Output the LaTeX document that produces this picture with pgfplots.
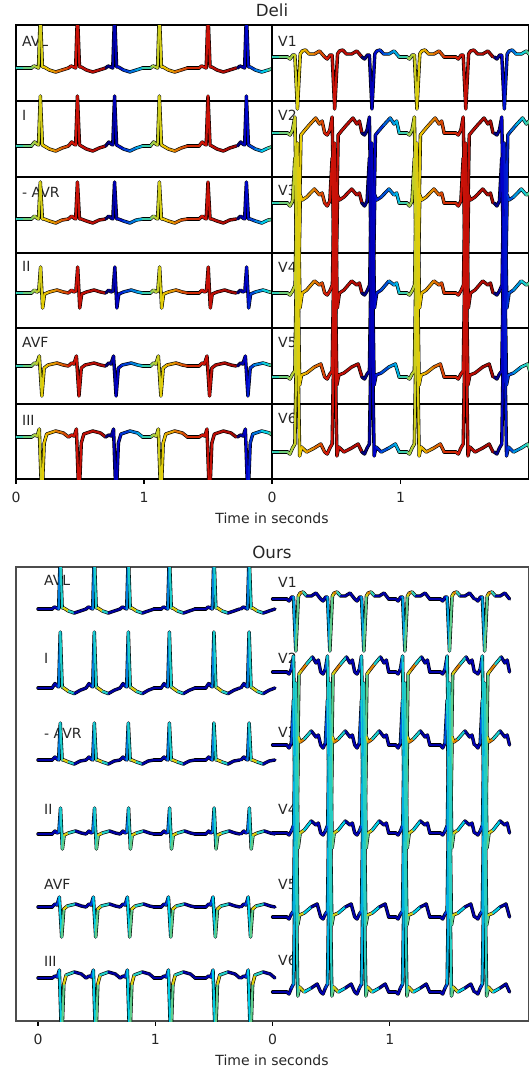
\documentclass[border=0pt]{standalone}
\usepackage{pgfplots}
\pgfplotsset{compat=1.18}
\usepackage{pgfplotstable}
\usepackage{fontspec}
\setmainfont{DejaVu Sans}

% one-beat templates: t = time from R (s), y = deflection (px, up), c = colour value of "Ours"
\pgfplotstableread{
t y c
-0.07 0 0.08
-0.05 2 0.08
-0.03 1 0.10
-0.014 0 0.20
0.0 55 0.36
0.016 1 0.45
0.03 1 0.50
0.07 -2 0.72
0.12 -4 0.10
0.17 -2 0.05
0.22 0 0.08
}\tAVL
\pgfplotstableread{
t y c
-0.07 0 0.08
-0.045 4 0.08
-0.028 2 0.10
-0.014 1 0.20
0.0 50 0.36
0.016 1 0.45
0.03 0 0.50
0.07 -3 0.72
0.12 -5 0.10
0.17 -2 0.05
0.22 0 0.08
}\tI
\pgfplotstableread{
t y c
-0.07 0 0.08
-0.045 3 0.08
-0.028 1 0.10
-0.014 0 0.20
0.0 37 0.36
0.016 0 0.45
0.03 0 0.50
0.07 -2 0.72
0.12 -4 0.10
0.17 -1 0.05
0.22 0 0.08
}\tAVR
\pgfplotstableread{
t y c
-0.07 0 0.08
-0.045 3 0.08
-0.028 1 0.10
-0.012 2 0.20
0.002 26 0.36
0.018 -15 0.45
0.033 -1 0.50
0.07 1 0.72
0.13 3 0.10
0.18 1 0.05
0.22 0 0.08
}\tII
\pgfplotstableread{
t y c
-0.07 0 0.08
-0.045 3 0.08
-0.028 2 0.10
-0.008 10 0.30
0.012 -30 0.45
0.03 -2 0.50
0.06 1 0.72
0.13 3 0.10
0.18 1 0.05
0.22 0 0.08
}\tAVF
\pgfplotstableread{
t y c
-0.07 0 0.08
-0.045 2 0.08
-0.025 1 0.10
-0.008 8 0.30
0.012 -65 0.45
0.03 -6 0.50
0.05 3 0.72
0.12 6 0.10
0.18 4 0.05
0.22 0 0.08
}\tIII
\pgfplotstableread{
t y c
-0.07 0 0.08
-0.05 -2 0.08
-0.028 2 0.10
-0.012 2 0.20
0.008 -52 0.45
0.03 3 0.50
0.045 6 0.70
0.07 7 0.75
0.10 3 0.10
0.14 3 0.05
0.18 6 0.08
0.22 0 0.08
}\tVa
\pgfplotstableread{
t y c
-0.07 0 0.08
-0.05 -2 0.08
-0.03 3 0.10
-0.012 16 0.35
0.012 -170 0.45
0.035 -2 0.50
0.06 2 0.70
0.10 8 0.75
0.15 15 0.05
0.18 9 0.08
0.20 12 0.10
0.22 0 0.08
}\tVb
\pgfplotstableread{
t y c
-0.07 0 0.08
-0.05 -3 0.08
-0.03 2 0.10
-0.012 45 0.35
0.012 -130 0.45
0.03 8 0.50
0.045 3 0.70
0.08 6 0.75
0.14 14 0.05
0.18 8 0.08
0.20 10 0.10
0.22 0 0.08
}\tVc
\pgfplotstableread{
t y c
-0.07 0 0.08
-0.05 -2 0.08
-0.03 2 0.10
-0.01 8 0.30
0.008 150 0.38
0.028 -15 0.45
0.045 0 0.50
0.08 3 0.70
0.14 12 0.05
0.18 8 0.08
0.20 10 0.10
0.22 0 0.08
}\tVd
\pgfplotstableread{
t y c
-0.07 0 0.08
-0.05 -2 0.08
-0.03 3 0.10
-0.012 6 0.30
0.006 160 0.38
0.025 -8 0.45
0.04 2 0.50
0.08 4 0.70
0.14 10 0.05
0.19 13 0.08
0.22 0 0.08
}\tVe
\pgfplotstableread{
t y c
-0.07 0 0.08
-0.05 -2 0.08
-0.03 4 0.10
-0.012 8 0.30
0.006 150 0.38
0.025 -4 0.45
0.04 5 0.50
0.08 0 0.70
0.14 4 0.05
0.19 8 0.08
0.22 0 0.08
}\tVf

% flat stretches between beats: t, colour in Deli (d), colour in Ours (o)
\pgfplotstableread{
t d o
0 0.40 0.08
0.06 0.46 0.08
0.12 0.52 0.08
}\gA
\pgfplotstableread{
t d o
0.99 0.36 0.08
1.05 0.52 0.08
}\gB
\pgfplotstableread{
t d o
1.34 0.82 0.08
1.43 0.86 0.08
}\gC

\tikzset{ecgK/.style={black, line width=3.4pt, line cap=round, line join=round}}
\pgfplotsset{ecgC/.style={mesh, line width=2.2pt, line cap=round, line join=round}}

% black outline of one beat: #1 R time, #2 shift, #3 base, #4 scale, #5 table
\newcommand\KB[5]{\addplot[ecgK] table[x expr=\thisrow{t}+#1+#2, y expr=#3+#4*\thisrow{y}] {#5};}
% Deli coloured beat: #1 R time, #2 start colour, #3 end colour, #4 base, #5 scale, #6 table
\newcommand\DB[6]{\addplot[ecgC, point meta={#2+(#3-#2)*(\thisrow{t}+0.07)/0.29}] table[x expr=\thisrow{t}+#1, y expr=#4+#5*\thisrow{y}] {#6};}
% Ours coloured beat: #1 R time, #2 shift, #3 base, #4 scale, #5 table
\newcommand\OB[5]{\addplot[ecgC, point meta=\thisrow{c}] table[x expr=\thisrow{t}+#1+#2, y expr=#3+#4*\thisrow{y}] {#5};}
\newcommand\KG[3]{\addplot[ecgK] table[x expr=\thisrow{t}+#1, y expr=#2+0*\thisrow{t}] {#3};}
\newcommand\DG[2]{\addplot[ecgC, point meta=\thisrow{d}] table[x expr=\thisrow{t}, y expr=#1+0*\thisrow{t}] {#2};}
\newcommand\OG[3]{\addplot[ecgC, point meta=\thisrow{o}] table[x expr=\thisrow{t}+#1, y expr=#2+0*\thisrow{t}] {#3};}

% whole traces (beats at 0.19 0.48 0.77 1.12 1.50 1.80 s)
\newcommand\TK[4]{%
 \KB{0.19}{#1}{#2}{#3}{#4}\KB{0.48}{#1}{#2}{#3}{#4}\KB{0.77}{#1}{#2}{#3}{#4}%
 \KB{1.12}{#1}{#2}{#3}{#4}\KB{1.50}{#1}{#2}{#3}{#4}\KB{1.80}{#1}{#2}{#3}{#4}%
 \KG{#1}{#2}{\gA}\KG{#1}{#2}{\gB}\KG{#1}{#2}{\gC}}
\newcommand\TD[3]{%
 \DB{0.19}{0.52}{0.82}{#1}{#2}{#3}\DB{0.48}{0.86}{0.93}{#1}{#2}{#3}\DB{0.77}{0.0}{0.36}{#1}{#2}{#3}%
 \DB{1.12}{0.52}{0.82}{#1}{#2}{#3}\DB{1.50}{0.86}{0.95}{#1}{#2}{#3}\DB{1.80}{0.0}{0.50}{#1}{#2}{#3}%
 \DG{#1}{\gA}\DG{#1}{\gB}\DG{#1}{\gC}}
\newcommand\TO[4]{%
 \OB{0.19}{#1}{#2}{#3}{#4}\OB{0.48}{#1}{#2}{#3}{#4}\OB{0.77}{#1}{#2}{#3}{#4}%
 \OB{1.12}{#1}{#2}{#3}{#4}\OB{1.50}{#1}{#2}{#3}{#4}\OB{1.80}{#1}{#2}{#3}{#4}%
 \OG{#1}{#2}{\gA}\OG{#1}{#2}{\gB}\OG{#1}{#2}{\gC}}

\pgfplotsset{ecgax/.style={scale only axis, height=454pt, ytick=\empty,
  tick align=outside, major tick length=4.9pt, xtick pos=left,
  point meta min=0, point meta max=1,
  colormap={djet}{rgb255(0pt)=(0,0,100); rgb255(1pt)=(0,0,205); rgb255(3pt)=(0,205,230);
    rgb255(5pt)=(236,205,0); rgb255(7pt)=(205,18,8); rgb255(8pt)=(120,0,0)},
  axis line style={black, line width=1.1pt}, tick style={black, line width=1.1pt},
  xticklabel style={font=\fontsize{14}{16}\selectfont, text=black!85, yshift=-5pt},
  /pgf/number format/assume math mode=true}}
\pgfplotsset{sepax/.style={extra y ticks={-101,-177,-253,-328,-404}, extra y tick labels={},
  extra y tick style={grid=major, major tick length=0pt}, major grid style={black, line width=1.1pt}}}

\begin{document}
\begin{tikzpicture}[x=1pt,y=1pt]
\useasboundingbox (0pt,0pt) rectangle (529pt,-1072pt);
\tikzset{lab/.style={anchor=west, inner sep=0pt, font=\fontsize{14}{16}\selectfont, text=black!85}}
% titles and axis labels
\node[font=\fontsize{16.7}{19}\selectfont, text=black!85] at (272pt,-10pt) {Deli};
\node[font=\fontsize{16.7}{19}\selectfont, text=black!85] at (272pt,-552pt) {Ours};
\node[font=\fontsize{14}{16}\selectfont, text=black!85] at (272pt,-518pt) {Time in seconds};
\node[font=\fontsize{14}{16}\selectfont, text=black!85] at (272pt,-1060pt) {Time in seconds};
% lead names, Deli
\node[lab] at (22pt,-41pt) {AVL}; \node[lab] at (22pt,-115pt) {I}; \node[lab] at (22pt,-192pt) {- AVR};
\node[lab] at (22pt,-266pt) {II}; \node[lab] at (22pt,-342pt) {AVF}; \node[lab] at (22pt,-420pt) {III};
\node[lab] at (278pt,-41pt) {V1}; \node[lab] at (278pt,-115pt) {V2}; \node[lab] at (278pt,-190pt) {V3};
\node[lab] at (278pt,-267pt) {V4}; \node[lab] at (278pt,-342pt) {V5}; \node[lab] at (278pt,-418pt) {V6};
% lead names, Ours
\node[lab] at (44pt,-580pt) {AVL}; \node[lab] at (44pt,-658pt) {I}; \node[lab] at (44pt,-733pt) {- AVR};
\node[lab] at (44pt,-809pt) {II}; \node[lab] at (44pt,-884pt) {AVF}; \node[lab] at (44pt,-961pt) {III};
\node[lab] at (278pt,-582pt) {V1}; \node[lab] at (278pt,-658pt) {V2}; \node[lab] at (278pt,-732pt) {V3};
\node[lab] at (278pt,-809pt) {V4}; \node[lab] at (278pt,-884pt) {V5}; \node[lab] at (278pt,-960pt) {V6};

% ---------- Deli, limb leads ----------
\begin{axis}[ecgax, sepax, at={(16pt,-479pt)}, anchor=south west, width=256pt,
  xmin=0, xmax=2, ymin=-479, ymax=-25, xtick={0,1}]
\TK{0}{-68}{1}{\tAVL}\TK{0}{-146}{1}{\tI}\TK{0}{-219}{1}{\tAVR}
\TK{0}{-293}{1}{\tII}\TK{0}{-366}{1}{\tAVF}\TK{0}{-437}{1}{\tIII}
\TD{-68}{1}{\tAVL}\TD{-146}{1}{\tI}\TD{-219}{1}{\tAVR}
\TD{-293}{1}{\tII}\TD{-366}{1}{\tAVF}\TD{-437}{1}{\tIII}
\end{axis}
% ---------- Deli, chest leads ----------
\begin{axis}[ecgax, sepax, at={(272pt,-479pt)}, anchor=south west, width=257pt,
  xmin=0, xmax=2, ymin=-479, ymax=-25, xtick={0,1}]
\TK{0}{-57}{1}{\tVa}\TK{0}{-133}{1}{\tVb}\TK{0}{-203}{1}{\tVc}
\TK{0}{-293}{1}{\tVd}\TK{0}{-377}{1}{\tVe}\TK{0}{-452}{1}{\tVf}
\TD{-57}{1}{\tVa}\TD{-133}{1}{\tVb}\TD{-203}{1}{\tVc}
\TD{-293}{1}{\tVd}\TD{-377}{1}{\tVe}\TD{-452}{1}{\tVf}
\end{axis}
% ---------- Ours ----------
\begin{axis}[ecgax, at={(16pt,-1021pt)}, anchor=south west, width=513pt,
  xmin=-0.1875, xmax=4.186, ymin=-1021, ymax=-567,
  axis line style={black!70, line width=1.1pt},
  xtick={0,1,2,3}, xticklabels={0,1,0,1}]
\TK{0}{-609}{1}{\tAVL}\TK{0}{-688}{1.12}{\tI}\TK{0}{-760}{1}{\tAVR}
\TK{0}{-834}{1}{\tII}\TK{0}{-907}{1}{\tAVF}\TK{0}{-978}{1}{\tIII}
\TK{2}{-599}{1}{\tVa}\TK{2}{-672}{1}{\tVb}\TK{2}{-745}{1}{\tVc}
\TK{2}{-833}{1}{\tVd}\TK{2}{-917}{1}{\tVe}\TK{2}{-992}{1}{\tVf}
\TO{0}{-609}{1}{\tAVL}\TO{0}{-688}{1.12}{\tI}\TO{0}{-760}{1}{\tAVR}
\TO{0}{-834}{1}{\tII}\TO{0}{-907}{1}{\tAVF}\TO{0}{-978}{1}{\tIII}
\TO{2}{-599}{1}{\tVa}\TO{2}{-672}{1}{\tVb}\TO{2}{-745}{1}{\tVc}
\TO{2}{-833}{1}{\tVd}\TO{2}{-917}{1}{\tVe}\TO{2}{-992}{1}{\tVf}
\end{axis}
\end{tikzpicture}
\end{document}
